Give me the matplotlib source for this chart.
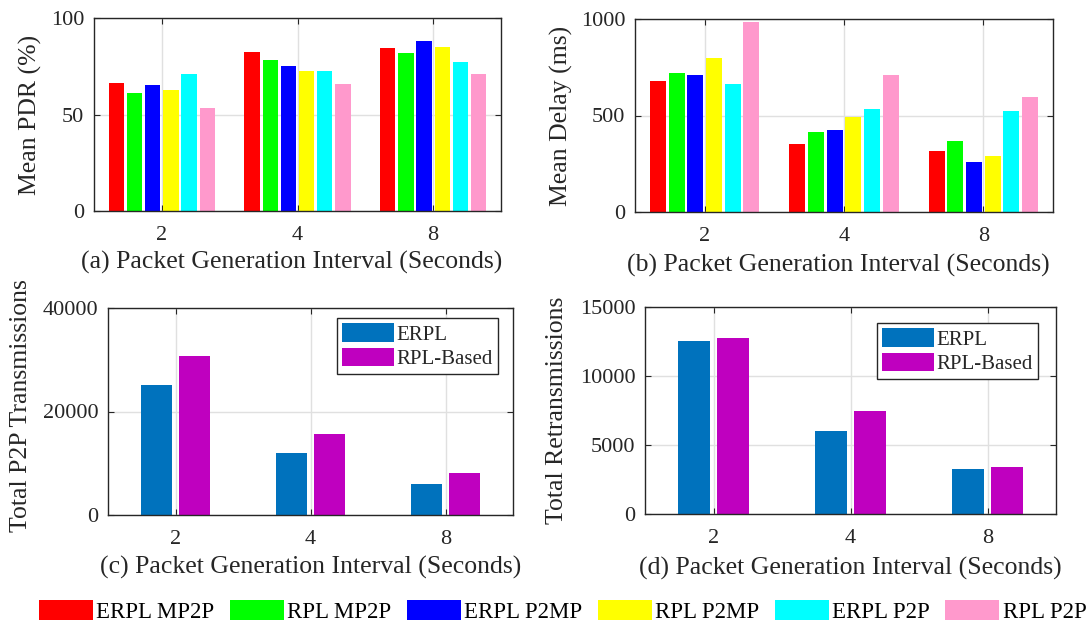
import matplotlib
matplotlib.use("Agg")
import matplotlib.pyplot as plt
import numpy as np

# ---- data ----
intervals = ["2", "4", "8"]
series6 = ["ERPL MP2P", "RPL MP2P", "ERPL P2MP", "RPL P2MP", "ERPL P2P", "RPL P2P"]
colors6 = ["#FF0000", "#00FF00", "#0000FF", "#FFFF00", "#00FFFF", "#FF99CC"]

pdr_erpl_mp2p = [66.4, 82.3, 84.2]
pdr_rpl_mp2p = [61.0, 78.3, 82.0]
pdr_erpl_p2mp = [65.3, 75.2, 88.2]
pdr_rpl_p2mp = [62.7, 72.3, 85.1]
pdr_erpl_p2p = [71.2, 72.3, 77.3]
pdr_rpl_p2p = [53.4, 65.9, 71.2]

delay_erpl_mp2p = [678, 351, 315]
delay_rpl_mp2p = [718, 413, 367]
delay_erpl_p2mp = [708, 424, 258]
delay_rpl_p2mp = [798, 490, 292]
delay_erpl_p2p = [664, 533, 521]
delay_rpl_p2p = [986, 711, 597]

series2 = ["ERPL", "RPL-Based"]
colors2 = ["#0072BD", "#BF00BF"]
p2p_erpl = [25180, 11980, 5925]
p2p_rpl = [30720, 15650, 8115]
retx_erpl = [12512, 5990, 3285]
retx_rpl = [12730, 7440, 3406]

pdr = [pdr_erpl_mp2p, pdr_rpl_mp2p, pdr_erpl_p2mp, pdr_rpl_p2mp, pdr_erpl_p2p, pdr_rpl_p2p]
delay = [delay_erpl_mp2p, delay_rpl_mp2p, delay_erpl_p2mp, delay_rpl_p2mp, delay_erpl_p2p, delay_rpl_p2p]

plt.rcParams['font.family'] = ['Liberation Serif', 'DejaVu Serif']
plt.rcParams['mathtext.fontset'] = 'stix'

DARK = "#262626"
TICK_FS = 16
LAB_FS = 18.5

fig = plt.figure(figsize=(10.91, 6.23), dpi=100)

W, H = 1091, 623
def axrect(l, r, t, b):
    return [l / W, (H - b) / H, (r - l) / W, (b - t) / H]

ax_a = fig.add_axes(axrect(94, 501, 18, 211))
ax_b = fig.add_axes(axrect(635, 1053, 19, 212))
ax_c = fig.add_axes(axrect(108, 513, 308, 515))
ax_d = fig.add_axes(axrect(645, 1056, 307, 514))

x = np.arange(1, len(intervals) + 1)

def style(ax, ylim, yticks):
    ax.set_xlim(0.5, 3.5)
    ax.set_ylim(*ylim)
    ax.set_xticks(x)
    ax.set_xticklabels(intervals)
    ax.set_yticks(yticks)
    ax.set_yticklabels([str(v) for v in yticks])
    ax.set_axisbelow(True)
    ax.grid(True, color="#E0E0E0", linewidth=1.0)
    for s in ax.spines.values():
        s.set_color(DARK)
        s.set_linewidth(1.0)
    ax.tick_params(axis='both', direction='in', top=True, right=True, length=4,
                   width=0.8, color=DARK, labelcolor=DARK, labelsize=TICK_FS)
    ax.tick_params(axis='x', pad=11)
    ax.tick_params(axis='y', pad=7)

def grouped(ax, data, colors, labels, spacing, width):
    n = len(data)
    handles = []
    for i, (vals, c, lab) in enumerate(zip(data, colors, labels)):
        off = (i - (n - 1) / 2) * spacing
        h = ax.bar(x + off, vals, width=width, color=c, edgecolor='none', label=lab)
        handles.append(h)
    return handles

h6 = grouped(ax_a, pdr, colors6, series6, 0.134, 0.113)
style(ax_a, (0, 100), [0, 50, 100])
ax_a.set_ylabel("Mean PDR (%)", fontsize=LAB_FS, color=DARK)
ax_a.set_xlabel("(a) Packet Generation Interval (Seconds)", fontsize=LAB_FS, color=DARK)

grouped(ax_b, delay, colors6, series6, 0.134, 0.113)
style(ax_b, (0, 1000), [0, 500, 1000])
ax_b.set_ylabel("Mean Delay (ms)", fontsize=LAB_FS, color=DARK)
ax_b.set_xlabel("(b) Packet Generation Interval (Seconds)", fontsize=LAB_FS, color=DARK)

grouped(ax_c, [p2p_erpl, p2p_rpl], colors2, series2, 0.284, 0.234)
style(ax_c, (0, 40000), [0, 20000, 40000])
ax_c.set_ylabel("Total P2P Transmissions", fontsize=LAB_FS, color=DARK)
ax_c.set_xlabel("(c) Packet Generation Interval (Seconds)", fontsize=LAB_FS, color=DARK)

grouped(ax_d, [retx_erpl, retx_rpl], colors2, series2, 0.284, 0.234)
style(ax_d, (0, 15000), [0, 5000, 10000, 15000])
ax_d.set_ylabel("Total Retransmissions", fontsize=LAB_FS, color=DARK)
ax_d.set_xlabel("(d) Packet Generation Interval (Seconds)", fontsize=LAB_FS, color=DARK)

# label positions
ax_a.yaxis.set_label_coords(-0.128, 0.5)
ax_b.yaxis.set_label_coords(-0.148, 0.5)
ax_c.yaxis.set_label_coords(-0.188, 0.53)
ax_d.yaxis.set_label_coords(-0.187, 0.5)
ax_a.xaxis.set_label_coords(0.485, -0.207)
ax_b.xaxis.set_label_coords(0.486, -0.218)
ax_c.xaxis.set_label_coords(0.5, -0.198)
ax_d.xaxis.set_label_coords(0.5, -0.208)

for ax, anchor in ((ax_c, (0.963, 0.952)), (ax_d, (0.956, 0.923))):
    leg = ax.legend(loc='upper right', bbox_to_anchor=anchor, fontsize=15,
                    handlelength=2.5, handleheight=1.0, handletextpad=0.1,
                    borderaxespad=0.0, borderpad=0.25, labelspacing=0.15,
                    fancybox=False, framealpha=1.0, edgecolor=DARK)
    leg.get_frame().set_linewidth(1.0)
    for t in leg.get_texts():
        t.set_color(DARK)

fleg = fig.legend(handles=h6, labels=series6, loc='center', ncol=6,
                  bbox_to_anchor=(0.5156, 0.0185), fontsize=16.5, frameon=False,
                  handlelength=2.35, handleheight=0.95, handletextpad=0.15,
                  columnspacing=0.68, borderpad=0.0)

fig.savefig("out.png", dpi=100)
